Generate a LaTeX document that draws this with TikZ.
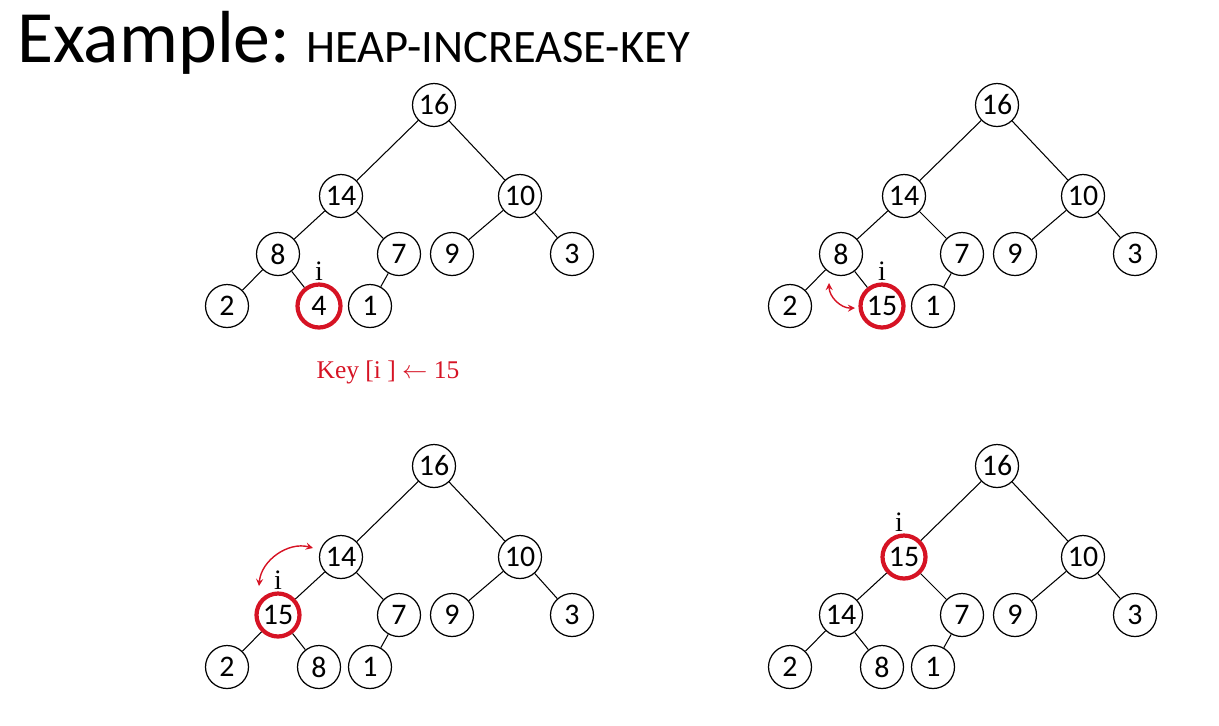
\documentclass[tikz,border=0pt]{standalone}
\usepackage{fontspec}
\setmainfont{Carlito}
\newfontfamily\serifFont{Liberation Serif}
\usetikzlibrary{positioning,arrows}
\usetikzlibrary{calc}
\definecolor{keyRed}{RGB}{214,19,36}

\begin{document}
\begin{tikzpicture}[x=0.02cm,y=-0.02cm]
  \tikzstyle{heapNode} = [
    % The shape:
    circle, minimum size=0.86cm, inner sep=0pt,
    % The border:
    draw=black, line width=0.7pt,
    % Font:
    font=\fontsize{17}{17}\selectfont
  ];
  \tikzstyle{keyNode} = [
    heapNode,
    % The border:
    draw=keyRed, line width=2.4pt
  ];
  \tikzstyle{indexLabel} = [
    % Just text!
    inner sep=0pt, font=\serifFont\fontsize{16}{16}\selectfont
  ];
  \tikzstyle{keyLabel} = [
    % Just text!
    text=keyRed, font=\serifFont\fontsize{14.5}{14.5}\selectfont
  ];
  \tikzstyle{heapEdge} = [
    draw = black,
    line width=0.6pt
  ];
  \tikzstyle{swapArrow} = [
    draw = keyRed,
    line width=0.8pt,
    stealth-stealth
  ];

  \useasboundingbox (0,0) rectangle (1219,725);

  \node [anchor=base west, inner sep=0pt] (title) at (17,62)
    {\fontsize{42}{42}\selectfont Example:\hspace{9pt}\fontsize{26.5}{26.5}\selectfont HEAP-INCREASE-KEY};

  % Before: key of node i is still 4
  \node [heapNode] (a16) at (434,105) {16};
  \node [heapNode] (a14) at (341,196) {14};
  \node [heapNode] (a10) at (520,196) {10};
  \node [heapNode] (a8) at (278,254) {8};
  \node [heapNode] (a7) at (399,254) {7};
  \node [heapNode] (a9) at (452,254) {9};
  \node [heapNode] (a3) at (572,254) {3};
  \node [heapNode] (a2) at (227,306) {2};
  \node [keyNode] (a4) at (319,306) {4};
  \node [heapNode] (a1) at (370,306) {1};
  \node [indexLabel, above = 1pt of a4] (ai) {i};
  \node [keyLabel] (keyAssign) at (388,372) {Key [i ] $\leftarrow$ 15};
  \foreach \p/\c in {16/14,16/10,14/8,14/7,10/9,10/3,8/2,8/4,7/1}
    \path [heapEdge] (a\p) -- (a\c);

  % 15 swapped with 8
  \begin{scope}[shift={(563,0)}]
    \node [heapNode] (b16) at (434,105) {16};
    \node [heapNode] (b14) at (341,196) {14};
    \node [heapNode] (b10) at (520,196) {10};
    \node [heapNode] (b8) at (278,254) {8};
    \node [heapNode] (b7) at (399,254) {7};
    \node [heapNode] (b9) at (452,254) {9};
    \node [heapNode] (b3) at (572,254) {3};
    \node [heapNode] (b2) at (227,306) {2};
    \node [keyNode] (b15) at (319,306) {15};
    \node [heapNode] (b1) at (370,306) {1};
    \node [indexLabel, above = 1pt of b15] (bi) {i};
  \end{scope}
  \foreach \p/\c in {16/14,16/10,14/8,14/7,10/9,10/3,8/2,8/15,7/1}
    \path [heapEdge] (b\p) -- (b\c);
  \path [swapArrow] ($(b8)+(-12,29)$) to[bend right=45] ($(b15)+(-27,2)$);

  % 15 swapped with 14
  \begin{scope}[shift={(0,361)}]
    \node [heapNode] (c16) at (434,105) {16};
    \node [heapNode] (c14) at (341,196) {14};
    \node [heapNode] (c10) at (520,196) {10};
    \node [keyNode] (c15) at (278,254) {15};
    \node [heapNode] (c7) at (399,254) {7};
    \node [heapNode] (c9) at (452,254) {9};
    \node [heapNode] (c3) at (572,254) {3};
    \node [heapNode] (c2) at (227,306) {2};
    \node [heapNode] (c8) at (319,306) {8};
    \node [heapNode] (c1) at (370,306) {1};
    \node [indexLabel, above = 1pt of c15] (ci) {i};
  \end{scope}
  \foreach \p/\c in {16/14,16/10,14/15,14/7,10/9,10/3,15/2,15/8,7/1}
    \path [heapEdge] (c\p) -- (c\c);
  \path [swapArrow] ($(c15)+(-19,-29)$) to[bend left=50] ($(c14)+(-28,-9)$);

  % After: heap property restored
  \begin{scope}[shift={(563,361)}]
    \node [heapNode] (d16) at (434,105) {16};
    \node [keyNode] (d15) at (341,196) {15};
    \node [heapNode] (d10) at (520,196) {10};
    \node [heapNode] (d14) at (278,254) {14};
    \node [heapNode] (d7) at (399,254) {7};
    \node [heapNode] (d9) at (452,254) {9};
    \node [heapNode] (d3) at (572,254) {3};
    \node [heapNode] (d2) at (227,306) {2};
    \node [heapNode] (d8) at (319,306) {8};
    \node [heapNode] (d1) at (370,306) {1};
    \node [indexLabel, above = 1pt of d15, xshift=-0.1cm] (di) {i};
  \end{scope}
  \foreach \p/\c in {16/15,16/10,15/14,15/7,10/9,10/3,14/2,14/8,7/1}
    \path [heapEdge] (d\p) -- (d\c);
\end{tikzpicture}
\end{document}
